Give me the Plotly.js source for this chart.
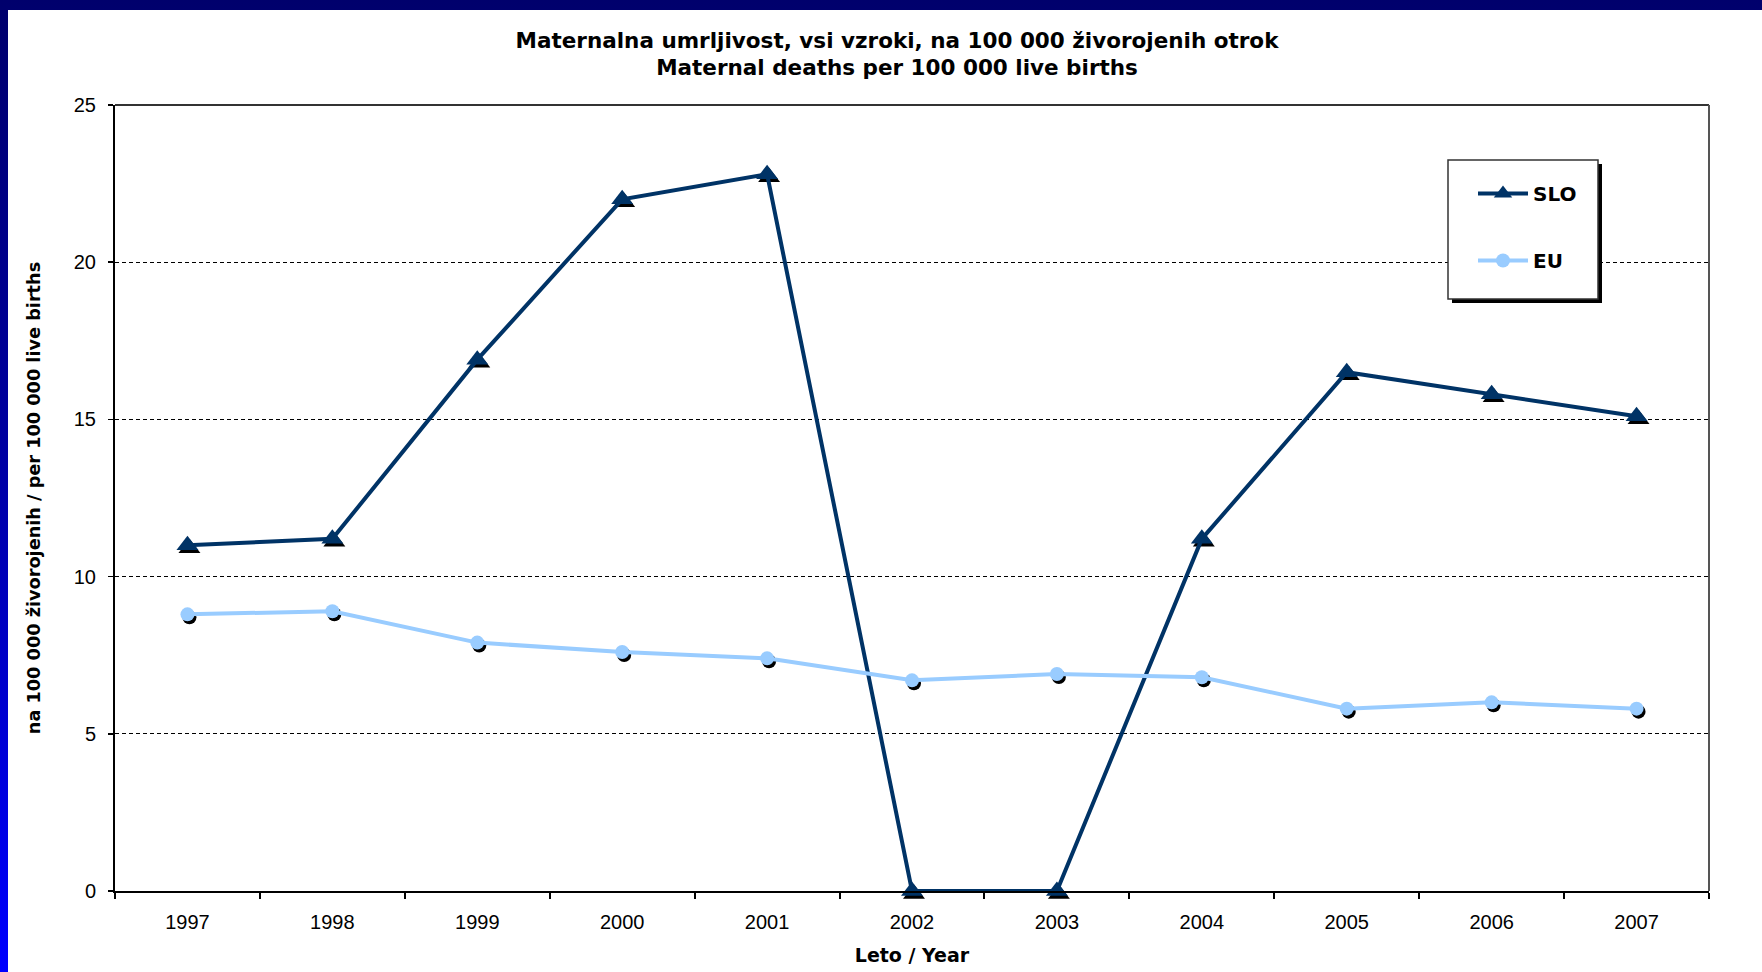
<!DOCTYPE html>
<html><head><meta charset="utf-8">
<script src="https://cdn.plot.ly/plotly-3.0.1.min.js"></script>
<style>
html,body{margin:0;padding:0;width:1762px;height:972px;overflow:hidden;}
body{background:linear-gradient(to bottom,#00006c 0%,#0000a0 45%,#0000ff 100%);}
#chart{position:absolute;left:8px;top:10px;width:1754px;height:962px;}
</style></head><body><div id="chart"></div>
<script>
const years = ['1997','1998','1999','2000','2001','2002','2003','2004','2005','2006','2007'];
const sloValues = [11.0, 11.2, 16.9, 22.0, 22.8, 0, 0, 11.2, 16.5, 15.8, 15.1];
const euValues = [8.8, 8.9, 7.9, 7.6, 7.4, 6.7, 6.9, 6.8, 5.8, 6.0, 5.8];
const yTicks = [0, 5, 10, 15, 20, 25];
const titleLine1 = 'Maternalna umrljivost, vsi vzroki, na 100 000 živorojenih otrok';
const titleLine2 = 'Maternal deaths per 100 000 live births';

const W = 1754, H = 962;
const mL = 107, mR = 51, mT = 95, mB = 78;
const PW = W - mL - mR, PH = H - mT - mB;
const dx = 2, dy = 3;

const sloColor = '#003366', euColor = '#99ccff';
const boldFont = 'DejaVu Sans, Arial, sans-serif';
const tickFontFam = 'Liberation Sans, Arial, sans-serif';

const traces = [
  {x: years, y: sloValues, xaxis: 'x', yaxis: 'y', mode: 'markers', showlegend: false, hoverinfo: 'skip',
   marker: {symbol: 'triangle-up', size: 19, color: '#000'}, cliponaxis: false},
  {x: years, y: euValues, xaxis: 'x', yaxis: 'y', mode: 'markers', showlegend: false, hoverinfo: 'skip',
   marker: {symbol: 'circle', size: 14, color: '#000'}, cliponaxis: false},
  {x: years, y: sloValues, xaxis: 'x2', yaxis: 'y2', mode: 'lines+markers', name: 'SLO', legendgroup: 'a',
   line: {color: sloColor, width: 4}, marker: {symbol: 'triangle-up', size: 19, color: sloColor}, cliponaxis: false},
  {x: years, y: euValues, xaxis: 'x2', yaxis: 'y2', mode: 'lines+markers', name: 'EU', legendgroup: 'b',
   line: {color: euColor, width: 4}, marker: {symbol: 'circle', size: 14, color: euColor}, cliponaxis: false}
];

const bx0 = (1440 - mL) / PW, bx1 = (1590 - mL) / PW;
const by1 = 1 - (150 - mT) / PH, by0 = 1 - (289 - mT) / PH;

const layout = {
  width: W, height: H,
  margin: {l: mL, r: mR, t: mT, b: mB, pad: 0},
  paper_bgcolor: '#ffffff', plot_bgcolor: 'rgba(0,0,0,0)',
  title: {
    text: titleLine1 + '<br>' + titleLine2,
    font: {family: boldFont, size: 21.5, color: '#000', weight: 'bold'},
    x: 889 / W, xref: 'container', xanchor: 'center',
    y: 1 - 37.5 / H, yref: 'container', yanchor: 'middle'
  },
  showlegend: true,
  legend: {
    x: bx0 + 25 / PW, y: by1 - 14 / PH, xanchor: 'left', yanchor: 'top',
    bgcolor: 'rgba(0,0,0,0)', borderwidth: 0,
    font: {family: boldFont, size: 20, color: '#000', weight: 'bold'},
    tracegroupgap: 38, itemwidth: 50
  },
  xaxis: {domain: [dx / PW, 1], range: [-0.5, 10.5], type: 'category', visible: false, fixedrange: true},
  yaxis: {domain: [0, 1 - dy / PH], range: [0, 25], visible: false, fixedrange: true},
  xaxis2: {
    domain: [0, 1 - dx / PW], anchor: 'y2', type: 'category', range: [-0.5, 10.5],
    tickson: 'boundaries', ticks: 'outside', ticklen: 6, tickwidth: 2, tickcolor: '#000',
    showline: true, linecolor: '#000', linewidth: 2, showgrid: false, zeroline: false,
    tickfont: {family: tickFontFam, size: 20, color: '#000'}, ticklabelstandoff: 12,
    title: {text: 'Leto / Year', font: {family: boldFont, size: 19, color: '#000', weight: 'bold'}, standoff: 17}
  },
  yaxis2: {
    domain: [dy / PH, 1], anchor: 'x2', range: [0, 25], tickvals: yTicks,
    ticks: 'outside', ticklen: 5, tickwidth: 1.5, tickcolor: '#000',
    showline: true, linecolor: '#000', linewidth: 2, zeroline: false,
    showgrid: true, gridcolor: '#000', gridwidth: 1, griddash: '4px,3px',
    tickfont: {family: tickFontFam, size: 20, color: '#000'}, ticklabelstandoff: 8,
    title: {text: 'na 100 000 živorojenih / per 100 000 live births', font: {family: boldFont, size: 17.7, color: '#000', weight: 'bold'}, standoff: 29}
  },
  shapes: [
    {type: 'line', xref: 'x2 domain', yref: 'y2 domain', x0: 0, x1: 1, y0: 1, y1: 1, line: {color: '#333', width: 2}, layer: 'above'},
    {type: 'line', xref: 'x2 domain', yref: 'y2 domain', x0: 1, x1: 1, y0: 0, y1: 1, line: {color: '#555', width: 2}, layer: 'above'},
    {type: 'rect', xref: 'paper', yref: 'paper', x0: bx0 + 4 / PW, x1: bx1 + 4 / PW, y0: by0 - 4 / PH, y1: by1 - 4 / PH,
     fillcolor: '#000', line: {width: 0}, layer: 'above'},
    {type: 'rect', xref: 'paper', yref: 'paper', x0: bx0, x1: bx1, y0: by0, y1: by1,
     fillcolor: '#fff', line: {color: '#333', width: 1.5}, layer: 'above'}
  ]
};

Plotly.newPlot('chart', traces, layout, {displayModeBar: false, staticPlot: true});
</script></body></html>
